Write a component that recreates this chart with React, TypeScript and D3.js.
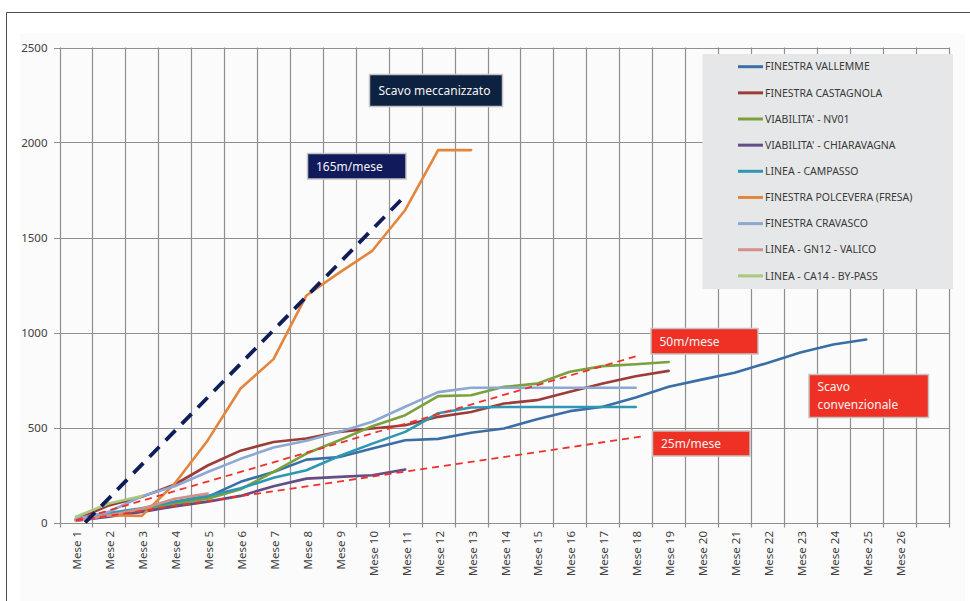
import React from "react";
import * as d3 from "d3";

// Category axis: 26 months plus one empty slot at the right end
const months = [
  "Mese 1", "Mese 2", "Mese 3", "Mese 4", "Mese 5", "Mese 6", "Mese 7",
  "Mese 8", "Mese 9", "Mese 10", "Mese 11", "Mese 12", "Mese 13", "Mese 14",
  "Mese 15", "Mese 16", "Mese 17", "Mese 18", "Mese 19", "Mese 20", "Mese 21",
  "Mese 22", "Mese 23", "Mese 24", "Mese 25", "Mese 26", "",
];
const yTicks = [0, 500, 1000, 1500, 2000, 2500];

// Cumulative excavation (m) per month, one array per heading
const vallemme = [20, 40, 65, 95, 135, 214, 266, 331, 345, 389, 433, 440, 472, 495, 544, 586, 609, 658, 714, 752, 788, 840, 895, 937, 963];
const castagnola = [15, 90, 135, 200, 300, 378, 424, 442, 477, 495, 512, 556, 582, 626, 644, 688, 731, 770, 798];
const nv01 = [10, 40, 70, 100, 125, 175, 266, 363, 433, 507, 565, 665, 670, 714, 731, 793, 823, 833, 845];
const chiaravagna = [10, 30, 55, 85, 110, 140, 191, 231, 240, 249, 279];
const campasso = [15, 50, 75, 110, 140, 180, 235, 275, 350, 415, 477, 575, 605, 608, 608, 608, 608, 608];
const polcevera = [15, 38, 35, 205, 432, 705, 860, 1195, 1315, 1430, 1645, 1960, 1960];
const cravasco = [20, 56, 138, 191, 266, 335, 395, 430, 477, 530, 609, 686, 709, 709, 709, 709, 709, 709];
const gn12 = [8, 38, 72, 125, 152];
const ca14 = [30, 100, 140];

const seriesNames = [
  "FINESTRA VALLEMME",
  "FINESTRA CASTAGNOLA",
  "VIABILITA' - NV01",
  "VIABILITA' - CHIARAVAGNA",
  "LINEA - CAMPASSO",
  "FINESTRA POLCEVERA (FRESA)",
  "FINESTRA CRAVASCO",
  "LINEA - GN12  - VALICO",
  "LINEA - CA14  - BY-PASS",
];
const seriesValues = [vallemme, castagnola, nv01, chiaravagna, campasso, polcevera, cravasco, gn12, ca14];
const seriesColors = ["#3b6ea6", "#9c3d3a", "#7aa13c", "#644c85", "#2f97b1", "#e3863c", "#8ca8d3", "#d48f8c", "#a9c97e"];

// Reference production rates: [month position, cumulative m]
const rate165: [number, number][] = [[1.28, 0], [11, 1720]];
const rate50: [number, number][] = [[1, 13], [18.13, 881]];
const rate25: [number, number][] = [[1, 10], [18.28, 455]];

const W = 970;
const H = 601;
const FONT = "'Noto Sans', 'Open Sans', sans-serif";

export default function App() {
  const x = d3.scaleLinear().domain([0.5, months.length + 0.5]).range([59.5, 948.5]);
  const y = d3.scaleLinear().domain([0, 2500]).range([522.5, 47.5]);

  const line = d3
    .line<number>()
    .x((_, i) => x(i + 1))
    .y((d) => y(d));
  const trend = d3
    .line<[number, number]>()
    .x((d) => x(d[0]))
    .y((d) => y(d[1]));

  const bounds = d3.range(months.length + 1).map((i) => Math.round(x(i + 0.5)) + 0.5);

  const boxStroke = "#c4c4c4";
  const boxText = { fill: "#f4f4f4", fontFamily: FONT, fontSize: 12 } as const;

  return (
    <svg
      width={W}
      height={H}
      style={{ position: "absolute", left: 0, top: 0, display: "block", background: "#ffffff" }}
    >
      {/* chart area */}
      <rect x={20} y={33} width={945} height={568} fill="#fbfbfb" />
      <path d={`M6.5,${H} V12.5 H${W}`} fill="none" stroke="#4d4d4d" strokeWidth={1} />

      {/* grid */}
      {bounds.map((bx, i) => (
        <line key={"v" + i} x1={bx} x2={bx} y1={y(2500)} y2={y(0) + 5} stroke="#8f8f8f" strokeWidth={1.2} />
      ))}
      {yTicks.map((t) => (
        <line key={"h" + t} x1={54} x2={bounds[bounds.length - 1]} y1={Math.round(y(t)) + 0.5} y2={Math.round(y(t)) + 0.5} stroke="#8f8f8f" strokeWidth={1.2} />
      ))}

      {/* y labels */}
      {yTicks.map((t) => (
        <text key={"yl" + t} x={47.5} y={y(t)} dy="0.35em" textAnchor="end" fontFamily={FONT} fontSize={11.5} fill="#404040">
          {t}
        </text>
      ))}

      {/* x labels */}
      {months.map((m, i) => (
        <text
          key={"xl" + i}
          transform={`translate(${x(i + 1) + 1.5},531) rotate(-90)`}
          dy="0.35em"
          textAnchor="end"
          fontFamily={FONT}
          fontSize={11.5}
          fill="#404040"
        >
          {m}
        </text>
      ))}

      {/* series */}
      {seriesValues.map((vals, k) => (
        <path
          key={"s" + k}
          d={line(vals) || ""}
          fill="none"
          stroke={seriesColors[k]}
          strokeWidth={2.6}
          strokeLinejoin="round"
          strokeLinecap="round"
        />
      ))}

      {/* reference rates */}
      <path d={trend(rate50) || ""} fill="none" stroke="#f0302a" strokeWidth={1.8} strokeDasharray="7 5" />
      <path d={trend(rate25) || ""} fill="none" stroke="#f0302a" strokeWidth={1.8} strokeDasharray="7 5" />
      <path d={trend(rate165) || ""} fill="none" stroke="#0f1d5a" strokeWidth={3.8} strokeDasharray="14 9" />

      {/* legend */}
      <rect x={702.5} y={54} width={250.5} height={235} fill="#e6e7e8" />
      {seriesNames.map((n, k) => {
        const ly = 66.7 + k * 26.15;
        return (
          <g key={"lg" + k}>
            <line x1={738} x2={763} y1={ly} y2={ly} stroke={seriesColors[k]} strokeWidth={3} />
            <text x={765} y={ly} dy="0.35em" fontFamily={FONT} fontSize={10.5} fill="#3a3a3a">
              {n}
            </text>
          </g>
        );
      })}

      {/* annotation boxes */}
      <rect x={369.5} y={74.5} width={133} height={32} fill="#0d2240" stroke={boxStroke} strokeWidth={1.5} />
      <text x={378.5} y={90.5} dy="0.35em" {...boxText}>Scavo meccanizzato</text>

      <rect x={307.5} y={153.5} width={98.5} height={25.5} fill="#111b5c" stroke={boxStroke} strokeWidth={1.5} />
      <text x={316} y={166.5} dy="0.35em" {...boxText}>165m/mese</text>

      <rect x={651} y={328.5} width={107} height={25.5} fill="#ee3124" stroke={boxStroke} strokeWidth={1.5} />
      <text x={659.5} y={341.5} dy="0.35em" {...boxText}>50m/mese</text>

      <rect x={652.5} y={431} width={97.5} height={25} fill="#ee3124" stroke={boxStroke} strokeWidth={1.5} />
      <text x={661} y={443.8} dy="0.35em" {...boxText}>25m/mese</text>

      <rect x={809} y={374.5} width={119.5} height={43} fill="#ee3124" stroke={boxStroke} strokeWidth={1.5} />
      <text x={817.5} y={386.8} dy="0.35em" {...boxText}>Scavo</text>
      <text x={817.5} y={404.3} dy="0.35em" {...boxText}>convenzionale</text>
    </svg>
  );
}
